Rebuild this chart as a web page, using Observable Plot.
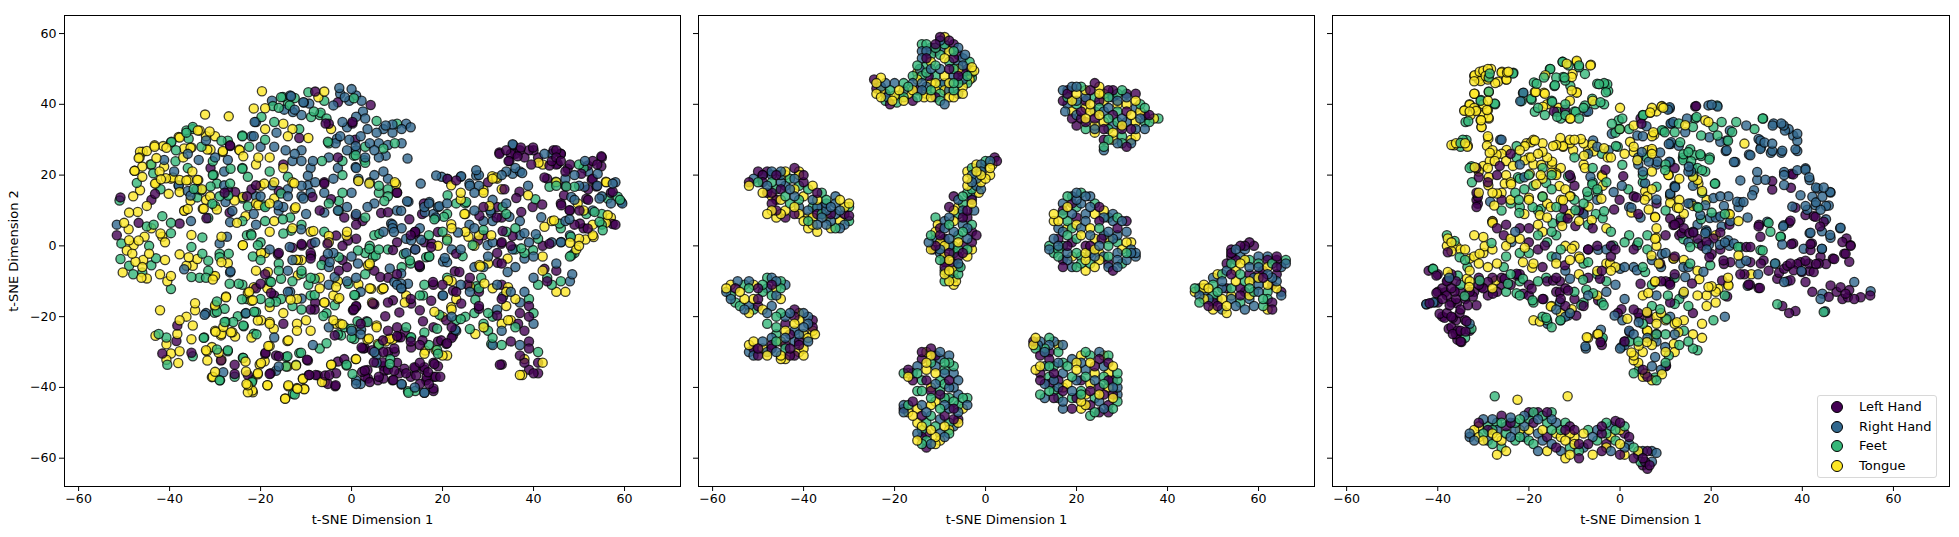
<!DOCTYPE html>
<html><head><meta charset="utf-8">
<script src="https://cdn.jsdelivr.net/npm/d3@7"></script>
<script src="https://cdn.jsdelivr.net/npm/@observablehq/plot@0.6"></script>
<style>
html,body{margin:0;padding:0;background:#fff;overflow:hidden;width:1959px;height:537px}
#root{position:relative;width:1959px;height:537px;font-family:"DejaVu Sans",sans-serif}
#root svg{position:absolute;top:0;overflow:visible}
#legend{position:absolute;left:1817px;top:395px;width:120px;height:83px;box-sizing:border-box;border:1px solid #d8d8d8;border-radius:3px;background:rgba(255,255,255,.8);font:13px "DejaVu Sans",sans-serif}
#legend div{position:absolute;left:41px;line-height:16px;white-space:nowrap;color:#000}
#legend i{position:absolute;left:-28px;top:2px;width:10px;height:10px;border-radius:50%;border:1.3px solid #000;box-sizing:content-box}
</style></head><body><div id="root"><div id="legend"></div></div>
<script>
const classes=["Left Hand","Right Hand","Feet","Tongue"];
const colors=["#440154","#31688e","#35b779","#fde725"];
const xTicks=[-60,-40,-20,0,20,40,60];
const yTicks=[-60,-40,-20,0,20,40,60];
// Each triple: t-SNE 1, t-SNE 2, class index
const panelA=[
-19.7,43.7,3,-21.5,38.8,3,-19,38.9,3,-17.5,41,1,-15.5,42,2,-13.5,42.5,1,-12.5,41.8,2,-14,40,2,-16,39,2,-12.5,38.5,1,-11,37,1,-9.5,43.4,2,-8,43.6,0,-6,43.6,3,-7.3,42,3,-6,41,2,-4,39.7,1,-3,40.6,0,-2.7,44.6,1,-2.5,43,1,-1.5,42,1,0,44.3,1,-0.5,41,1,1,42.5,1,0.5,41.7,2,2.2,41,1,4.2,39.8,0,2.5,38,1,-10.5,40.5,1,-8.3,38,2,-5.5,36,2,-7,37,2,-5,34.5,0,-4.5,33,3,-2,35,1,-1,33.5,1,0.2,35,0,1,36.5,1,3,36,1,5.5,35.3,2,7.5,34,1,9,34.3,1,10,34.5,2,12,34.5,1,13,33.5,1,11,33,1,9,32,1,7,33,1,5.5,32,1,3.5,33,1,2,31,1,-0.5,30,1,-2.5,31,1,-3.5,29,1,-5,29,2,0.8,30,0,4,29,1,6,29,1,8,28.5,1,9.5,29,2,11,29,1,
-21,35,1,-19,33,3,-17,35,2,-15,34.5,3,-13,33,3,-11.5,33,2,-16.5,32,1,-14,31,3,-11.5,30.5,0,-9.5,30.5,3,-19,30,2,-22,31,1,-20,28,1,-22.5,28,2,-17,28,1,-14.5,27,1,-12.5,26,1,-11,27,1,-18,25,3,-20.5,25,3,-15,23,0,-13,24,1,-11,24,1,-8.5,24,1,-6.5,24,2,-5,25,1,-3,25,0,-2,24,2,1,27,1,3,28,2,5,27,1,7,27.5,2,-1,27,1,0.5,25.5,2,3,25,1,3,23.5,2,6,25,1,7.5,25.5,1,12.3,24.7,1,1,22,1,-3,22,1,-9,22,1,-15,22,3,-21,23,3,-18,21,2,-14,19.5,2,-13,18,3,-17,18,3,-20,17,3,-16,15.5,0,-11,17,1,-8,18,1,-6,18,0,-4,19,1,-2,20,2,1.5,19,1,5,20,1,7,21,1,8,19,1,1.5,18.5,3,4,18,1,9.5,18,3,6,17,2,8,16,2,0,15,1,-2,15,2,-6,15,1,-9,15,1,-11,14,1,-14,14,1,-20,14,1,-23,14,0,-21,12,3,-18,12,3,-15,11,1,-12.5,10.5,3,-10,9,1,-7,10,0,-5,12,2,-3,10,1,-1,11,1,1,9,1,3.5,11,1,5,12,1,6,15,2,8,14,2,10,15,0,12.5,12.5,1,10,10,1,8,9.5,0,9,6,1,
-50.8,13.7,0,-51,12.8,2,-48,14,3,-51.6,6,1,-51.6,3,0,-50.6,0.7,2,-50.3,-7.5,3,-50.8,-3.7,2,-48.9,9.4,3,-47,9.6,3,-50,6.5,3,-49,4.7,3,-48.9,1.6,3,-47.9,0.2,3,-48.2,-2.2,3,-49.4,-1.3,3,-48.9,-5.6,2,-46.8,6.5,0,-45.5,2.6,3,-45,5.5,2,-44,5,3,-44.5,-2.2,3,-46,-6,3,-46.2,-9,3,-45,-9.2,3,-42.1,-8,3,-39.7,-8.5,3,-39.7,-12.2,2,-41.6,2.6,3,-39.7,3.6,2,-39.7,6.5,2,-37.8,6.3,0,-41.6,8.4,2,-41,-4,3,-42,3.5,3,-41,1,3,-44.5,0,2,-46.8,1.5,3,-47.5,-4.5,3,-45.8,-4,3,-44,-5.5,2,-43,-3.5,2,-40.5,-10,3,-48,-8,2,-46,-7.5,2,-43.5,6,2,
-32.2,37.1,3,-27,36.6,3,-34.9,33,2,-36.3,32,2,-33.4,32.6,3,-32,31,3,-30,31,3,-28.6,29.7,2,-26.7,28.2,0,-37.8,30.6,3,-39.7,29.2,2,-40.7,27.7,3,-43.3,28,3,-45,26.8,3,-46.5,26.6,3,-46.8,24.8,3,-42.9,24.8,3,-41.2,24.3,1,-38.7,23.9,2,-35.4,27.7,3,-31.7,27.2,3,-28.3,26.8,3,-24.7,27.2,3,-24,31,2,-33.6,24.3,1,-30.5,23.9,2,-27.2,24.3,1,-23.8,25.3,3,-46,22.4,3,-41.2,22.4,3,-47.7,21.2,3,-46,19.5,3,-43.6,20.5,2,-39.7,19,3,-41.9,18.8,3,-37.8,18.6,3,-35.9,18.6,3,-33.7,18.6,3,-35,21,3,-43.2,17.6,3,-47.2,17.8,2,-38,17,1,-32.9,16,3,-30.5,20,2,-28,21,1,-29.6,17.6,2,-26.7,17.6,2,-24,22,2,-22.8,19.5,2,-46.5,15.7,3,-43.2,14.7,0,-40.2,14.7,3,-37.8,15.2,3,-33.9,13.7,2,-35.4,14.2,1,-45,11.3,3,-36.8,9.9,3,-35.4,12.8,3,-32.5,10.5,3,-29.6,10.3,3,-30,11.3,2,-31.5,7.9,2,-27.1,14.2,2,-25.7,12.8,3,-27.2,15.7,0,-24,13.4,2,-26.2,9.9,1,-25.2,6.5,3,-26.7,6.7,1,-23.3,8.4,3,-36,26,1,-33,28,2,-30,25,1,-36,22,2,-37,25,3,-39,21,1,-44,23,2,-31,22,0,-34,16,1,-36,15.5,1,-42,16,2,-44,13,0,-29,14,2,-32,13,3,-22,16,0,
-35.2,3.1,3,-32.8,2.4,2,-35.2,-0.3,2,-37.8,-2.4,3,-35.8,-3.2,3,-33.9,-3.7,3,-36.3,-5.6,3,-34.9,-5.6,3,-32.8,-2.2,2,-31.5,-4.2,2,-29,-2.2,2,-27,-2.2,2,-28.6,-4.6,3,-27.2,-4.9,3,-31.5,-7,2,-33.4,-9,2,-35.2,-8.8,2,-36.8,-6.6,1,-30,-8.5,3,-26.7,-7.5,1,-28.6,2.6,3,-27.4,2.6,1,-29,0.7,1,-23.9,0.2,3,-30.5,-9.5,3,-32,-9,2,
-24,7,2,-23,3,2,-21,6,1,-19,7,2,-17,7,3,-16,10,1,-19,11,2,-21.5,9,1,-13.5,8,2,-11,6,2,-13,5,3,-15,3.5,2,-18,4,3,-20,1,2,-22,3,2,-9,4,3,-6,4,2,-8,1,1,-5,1,3,-11,0.5,0,-13,-0.5,0,-16,-2,0,-18,-1,1,-20,-4,2,-19,-2,3,-16,-5,2,-13,-4,1,-11,-4,3,-9,-2,0,-6,-4,0,-4,-2,1,-2,0,0,1,2,0,-1,4,3,1,6,0,3,8,2,5,3,2,7,4,1,9,5,1,11,5,1,4,0,2,6,-1,2,8,-1,2,10,1,0,3,-2,2,0,-3,1,-2,-4,0,-5,-6,1,-7,-9,3,-9,-9,2,-11,-7,2,-14,-7,1,-16,-7,2,-19,-8,0,-21,-7,3,-18,-10,2,-13,-10,2,-9.5,-11,2,-7,-12,3,-5,-11,1,-3,-10,3,-1,-6,0,1,-9,1,3,-8,2,5,-7,0,4,-5,3,2,-13,1,7,-12,3,8,-9,0,10,-8,0,12,-2,1,14,-1,0,12,2,1,14,4,0,11,-6,2,13,-5,2,15,-6,2,14,-1,1,17,-3,2,16,1,0,
-24,-11,2,-22.5,-13,3,-21,-12,0,-18.5,-12,3,-17,-14,0,-14,-13,1,-12,-15,3,-9,-14,2,-8,-16,0,-6,-16,3,-4,-14,3,-3,-15,3,-1,-10,1,0.8,-14,2,4,-12,3,7,-12,3,8,-16,0,10,-11,1,11,-12,1,12,-14,3,13,-15,0,15,-14,2,4.5,-16,3,5,-16.5,0,0.5,-18,0,1,-17,0,-20,-15,2,-23,-15,2,-22,-15.5,3,-18,-16,2,-15.5,-15,2,-13,-17,2,-15,-19,3,-11,-18,2,-9,-18,0,-5.5,-19,2,-4,-21,3,-2.5,-22,3,-12,-22,3,-10,-21,3,-9,-24,3,-12,-24,3,
-42.1,-18.2,3,-43.1,-25.4,3,-42.4,-24.9,2,-34.4,-16.2,3,-34.4,-18.2,3,-36.3,-20,3,-37.8,-21,3,-38.3,-22.5,0,-34.9,-22.5,3,-32,-19,1,-29.6,-15.7,2,-29.6,-18.6,2,-27.6,-14.3,3,-30,-17.2,3,-40.7,-25.9,2,-38.3,-24.9,3,-40.7,-27.8,3,-38.5,-26.9,0,-35.2,-26.4,3,-32.4,-25.9,2,-41.6,-30.4,0,-39.7,-30.4,3,-37.8,-29.8,3,-35.2,-30.2,0,-40.7,-32.2,3,-40.5,-33.6,2,-38.1,-33.1,3,-34.9,-31.2,2,-31.8,-29.8,3,-29.6,-29.3,2,-27.2,-29.5,2,-31.7,-32.4,3,-28.6,-32.2,3,-29.9,-24.3,3,-28.6,-24.9,3,-26.2,-24.4,3,-27.6,-21.5,2,-23.8,-22.5,2,-21.4,-18.6,2,-23.3,-19.1,2,-19.9,-21,3,-18,-22,3,-20.9,-25,2,-22,-25.9,3,-15,-22,0,-17,-25.9,1,-18,-28.3,3,-14.1,-26.9,3,-18.9,-30.2,0,-16,-31.2,0,-23.8,-31.7,2,-30.5,-37,3,-28.9,-38,2,-30,-35.6,3,-25.7,-33.6,0,-25.7,-37,2,-22.8,-36.5,0,-23.3,-32.7,3,-19.9,-33.1,3,-20.6,-36,3,-21.8,-38,2,-22.8,-39.4,3,-21.8,-40.9,3,-18.5,-39.4,3,-17.8,-36,0,-16,-34.1,1,-14.1,-31.2,2,-14.1,-34.1,3,-12.2,-33.6,2,-9.8,-32.2,0,-11.1,-30.2,2,-13.9,-39.7,3,-12.9,-41.8,2,-14.6,-43.1,3,-12,-40.2,3,-10.4,-40.4,3,-10.7,-37.5,3,-9.3,-36.5,0,-7.9,-36.5,0,-5.9,-38.5,3,-4.9,-36.5,0,-3.5,-39.4,0,-4.4,-33.6,3,-3,-32.7,0,-1.1,-33.6,2,0.9,-32,3,-8.5,-28,1,-7,-29,2,-5.5,-27.5,2,-5,-23,1,-3,-25,2,-1.5,-23,2,0,-24,1,2,-22,0,3.5,-21.5,2,5.5,-22.5,3,0,-26,2,2,-25,1,3.5,-26.5,3,2.5,-29,0,4.5,-29.5,0,6,-28,2,7.5,-27,3,9,-26.5,3,10,-25.5,0,8,-24,0,10,-23,0,12,-23,2,
2.3,-35.6,0,3,-37,0,1,-38,1,2,-39,1,4,-38.5,0,6,-37,0,5.5,-33,1,7,-34,0,8,-35,0,8.5,-32,2,10,-33,0,10.5,-36,0,12,-36,0,13,-37,0,7,-37.5,0,9,-38,0,11,-39,1,12.5,-41.5,2,14,-41,2,16,-41.5,1,15,-39,0,17,-39,0,18,-41,0,18,-37,0,19.5,-37,0,19,-34,0,16.5,-37,0,16,-35,0,15,-33,0,18,-33,0,14,-34.5,0,5,-30,1,7,-30,0,9.5,-30,0,13,-26,2,13,-27,0,15,-28,0,17,-28,2,19,-27,0,21,-27.5,0,22,-26,0,16,-24.5,2,18,-23,0,22,-23,0,23,-24,1,18.5,-29.5,3,21,-31,3,19,-30.5,2,16,-30.5,3,
19.8,19.5,1,21,19,1,23,18.5,0,24,15,3,26,17,1,24,19.5,1,27,15,1,28,20,1,28,17,1,30,18,0,31,19,3,32,19,3,33,16,3,31,13,1,29,15,3,16,11,1,15.5,9,0,18,9,1,17,12,1,19,11,1,18.5,8,1,21,9,2,21,12,1,23,12,2,25,9,3,25,12,2,27,10,1,29,11,0,30.5,10,1,32,11,0,34,12,1,33,8,0,31,7,1,29,7,1,27,5,1,28,3,3,25,4,3,22,5,3,20,4,2,17,3,2,15,5,1,13,3,0,19,0,3,21,2,3,22,-1,1,24,-1,1,27,0,3,29,3,0,31,1,1,33,1,0,35,0,0,36,-1,2,37,3,1,39,1,1,38,-2,2,41,2,2,42,0,0,40,-3,1,36,5,2,34,4,2,37,7,1,34,9,2,32,-2,0,30,-3,1,30,-5,3,33,-5,0,36,-6,1,29,-6,1,27,-6,1,26,-9,0,24,-11,1,21,-9,2,22,-10,3,20,-11,0,18,-11,0,16,-11,2,28.5,-9,2,32,-11,1,28,-12,2,26,-11.5,3,28,-13,0,26,-13,1,31,-12,3,33,-11,0,20,-14,1,23,-13,0,23,-15,3,22,-18,3,20,-20,3,22,-20,1,23,-21,2,25,-20,2,27,-19,2,28,-17,0,30,-19,2,32,-18,1,29,-23,3,30,-24,2,29,-22,2,31,-20,2,
33,-15,0,34,-17,3,36,-15,3,37,-19,0,39,-20,0,40,-19,2,37,-16,1,39,-17,0,35,-13,1,34,-13,3,38,-13,1,39,-15,2,31,-26,2,33,-24,1,33,-22,3,35,-21,3,36,-23,2,38,-24,0,40,-22,1,39,-27,0,31,-28,1,33,-28,2,35,-27,0,37,-28,1,39,-29,0,41,-30,2,42,-33,3,41,-33,0,33,-33.5,0,37.5,-36.5,3,38,-33,0,39,-35,0,37,-31,0,40,-36,0,41,-36,0,38,-32,3,
34,27,0,32.5,26,0,35,26,0,36,26,0,37,27,0,39,27,0,40,27,0,35.5,28.5,1,38,25,0,34.5,24,0,41,25,0,42,23,3,36,22,1,37,21,1,34,21,1,33,20,1,
45,27,0,46,26,0,44,26,1,46,24,0,44,24,0,45,23,0,48,23,0,47,21,0,50,23,2,53,24,0,55,25,0,54,23,0,51,22,2,53,19,0,52,21,1,49,20,1,47,19,1,45,18,3,43,19,0,45,17,2,47,17,0,50,17,1,52,16,0,54,17,1,56,18,3,58,18,1,57,15,0,59,13,2,59.5,12,1,57,12,1,55,14,1,52,13,0,49,13,1,46,12,0,48,10,0,51,10,3,53,10,1,55,9,2,57,8,3,58,6,0,55,6,2,53,6,3,51,5,0,49,6,0,47,7,1,44,7,3,46,5,2,53,3,3,50,2,3,48,3,1,49,-2,2,50,0,3,46,1,1,44,1,1,42,-3,3,48,-3,2,45,-5,1,45,-7,0,42,-7,3,43,-9,2,48.5,-8,1,48,-10,1,46,-10,2,44,-11,2,45,-13,3,47,-13,3,43,-10,0,40,-9,1,41,-11,2
];
const panelAMore=[
35.4,28.7,1,37.2,27.8,0,39.9,27.8,0,32.5,26.4,0,34.7,24,0,36.5,25.3,0,39.5,23,0,41.1,23.5,3,35.4,20.4,1,37.5,20.6,1,42.4,26,1,44.4,27,0,46,26,0,45,25,0,43.5,22.7,0,45.3,23.2,0,47.5,21.8,0,51.3,24,1,54.9,25.3,0,51.9,22.7,0,54.9,22.5,0,50.5,20.4,0,54.1,20.4,1,52.8,18.7,0,55.9,18.1,3,57.4,17.6,1,42.4,19.3,0,43.5,16.7,2,44.9,18.1,2,47.2,16.8,2,49,16.7,2,51.2,16.7,1,53.8,16.8,0,57.4,15.3,0,58.5,13.9,2,59.3,12.4,1,56.3,13.4,2,54.5,13.4,1,48.3,13.8,1,46.7,14.3,0,51.6,13.3,0,46.1,11.5,0,49.7,12,3,47.9,10.1,0,50.1,10,0,53.4,9.6,2,56.3,8.7,3,51.6,9,2,47.9,7.5,1,44.5,7.2,3,45.7,6.3,2,50.2,6.3,0,51.9,4.9,0,54.5,6.8,2,55.9,6.5,3,57.4,6.2,0,55.2,4.4,2,48.2,2.6,2,51.4,1.8,3,53.2,2.5,3,48,0.9,3,49.4,-1,3,46.1,1.1,1,42.4,5.4,3,43.5,0.6,0,31.8,19.3,3,30.9,19.7,3,29,15.7,3,27.4,21.4,1,33.6,16,0,38.8,17,1,36.9,15.3,0,38.8,14.3,3,40.4,13.2,2,36.2,13.5,0,39.8,11,0,41.9,11.7,0,33.2,11,2,30.3,11.3,3,37.3,9.6,0,34.7,8.2,1,31.9,8,0,28.1,8.5,0,30.7,9.2,1,24.8,9,3,24,13.1,3,25.2,12.4,2,21.1,14.3,2,18.6,19.9,1,24.1,19.7,1,27.4,19.9,1,25.9,17.6,1,21.9,17.1,3,21.1,18.9,0,15.9,12,0,17.1,12.4,1,19.3,11.2,1,16.1,9.5,1,20.3,8.2,2,18.2,7.5,2,21.9,6.1,3,23.4,3.8,1,25.9,6,1,29,4.5,2,30.7,3,3,27.8,1.5,0,25.7,2.6,3,21,1.5,2,19,3.9,0,33.2,4.2,0,35.4,2.8,0,38,3.6,1,40.5,3.3,1,41.7,8.1,1,39.9,-1.2,2,37.3,-0.7,2,35.4,-1,1,32.9,0.6,0,29.9,0.2,1,26.6,0.2,2,23,-2.2,0,24.4,-2.9,2,21,-4.6,1,17.5,-0.3,0,14,3.5,0,15.3,1.7,1,15.2,17.6,1,12.7,7.5,0,12.2,12.6,1,9.8,17.5,3,10,15.1,0,7.2,12.7,2,10.9,9.9,1,8.7,6.3,1,6.5,9.3,0,9.3,3.9,1,13.9,3.9,0,13.1,1.6,1,11.5,-2.3,2,9.1,-1.2,0,17.1,-3,2,14.9,-5.5,0,20.1,-4.4,1,28.1,-5.4,3,32.1,-4.8,0,34.3,-3.6,3,38,-3.6,1,42.4,-6.5,0,48.3,-2.7,2,
-47.7,21.2,3,-44.2,23,3,-42.2,21,3,-40.8,19.1,3,-39.3,19.3,3,-43,17.6,3,-36.3,18.5,3,-33.9,18.6,3,-38,17.1,1,-34.7,16.1,2,-33,15.7,2,-31,16.8,2,-30.3,20.1,2,-26.6,21.8,2,-24,21.8,2,-28,17.1,1,-25.6,15.2,0,-27.9,15,0,-31.1,14,3,-27.7,12.4,1,-26.8,9.4,0,-30.6,11.9,2,-32.7,10.5,3,-36,10.4,3,-36.7,10,3,-31.9,7.8,0,-35.3,7,1,-23.9,13.8,3,-22.8,11.2,2,-21,17.1,0,-19.2,17.6,3,-17.4,17.1,1,-14,16,1,-12.6,17.7,3,-15.5,14.8,2,-20.5,11.5,3,-19.2,11.4,2,-16.2,11.5,1,-12.3,10.9,3,-17,13.4,3,-21,14,1,-10.6,13.4,1,-8.6,13.8,0,-9.6,19.8,1,-9.6,17.1,1,-6,17.6,0,-4.5,13.2,0,-2.8,12.7,2,-2.8,9.9,2,-6,9.4,1,-1.6,8,0,2.4,7,0,0.9,8.5,0,-22.1,3.4,2,-20.6,0.2,2,-19.9,-2,3,-16.2,-2.4,0,-13.6,-0.3,1,-11.8,-4,3,-10.9,0.1,0,-8.8,0.6,0,-8.4,4.2,3,-5,2.8,3,-3.4,2.9,0,-5.3,0.6,0,-1.1,2.9,3,-0.8,1.5,0,-13.3,4.3,2,-15.1,7.5,2,-11.1,4.7,1,-9,-3.6,0,-6.6,-5.4,2,-4.8,-4.6,1,-2.8,-3.2,2,1.4,-1.3,2,3.9,-5.5,3,6.1,3.4,2,3.9,-0.8,2,5.3,-2.7,2,-21.7,-3,2,
-21.3,35,1,-19.8,36.4,2,-17.3,39.5,2,-15.1,42.1,2,-13.3,42.3,1,-13.6,39.7,2,-14.8,38.5,1,-12.9,37.8,1,-10.6,40.6,1,-9.3,40.2,1,-8.9,36.4,2,-6.8,37.6,2,-5.7,34.6,0,-5.2,29.4,2,-3.2,30.3,1,0.2,34.6,0,0.9,28.2,1,0.9,25.6,2,2.8,24.2,2,0.9,22.3,1,1.5,18.3,3,3.9,17.6,3,-34.9,33.6,2,-36.3,32.6,2,-33.8,32.6,3,-31.2,32.3,3,-35.8,30.3,2,-38,30.8,3,-39.6,29.4,2,-41.4,28.2,3,-43.3,28.4,3,-45.9,26.6,3,-46.6,25,3,-38.6,27,2,-36.8,27.5,3,-35.2,27.8,3,-32,29.8,1,-31,27.2,3,-28.3,26.5,3,-27.2,29.7,2,-26.7,28.4,0,-24.6,27,3,-24,31.2,2,-21.5,31,1,
-23.9,0.2,3,-29,-3.2,2,-30.3,-8.6,3,-26.6,-7.2,1,-26.8,-10.7,2,-24.8,-10.7,2,-24.1,-15.1,2,-27.6,-14.5,3,-30,-16.8,3,-27.9,-17.8,2,-30.1,-18.9,2,-32.3,-19.5,1,-23.2,-19,1,-21,-18.7,2,-25,-19.9,2,-27.9,-21.5,2,-26,-21.5,2,-20.6,-21.1,3,-18,-21.5,3,-17.1,-23.4,3,-23.7,-22.7,2,-21.5,-24.8,2,-30,-24,3,-28.2,-22.9,3,-26.5,-24.4,3,-25.6,-25.6,3,-28.7,-25.3,3,-32.5,-26,2,-32,-29.5,3,-30.7,-28.6,3,-27.2,-29.8,2,-29.2,-30.2,3,-28.7,-32.4,0,-23.9,-31.6,2,-19,-30.5,0,-18.3,-28.3,3,-13.9,-26.7,3,-20.2,-33.5,3,-19.1,-32.6,3,-16.6,-31,0,-14.4,-31.4,2,-11.5,-30.3,2,-9.6,-32.4,0,-12.2,-33.8,3,-14.4,-34.1,2,-18,-36.2,0,-16.6,-35.3,1,-25.7,-36.2,0,-23.2,-35.5,3,-20.6,-36.3,3,-30.7,-37.1,3,-29,-38,2,-28.2,-35.7,1,-21.9,-38.5,2,-23.1,-39,3,-22.8,-41.4,3,-21.7,-41.4,3,-18.5,-39.4,3,-13.9,-39.4,3,-11.9,-40.4,3,-10.4,-40.5,3,-12.5,-42,2,-14.6,-43.2,3,-10.7,-37.6,3,-9.4,-36.5,0,-7.4,-36.6,0,-5.8,-36.6,0,-6.5,-38.5,3,-5.2,-39,0,-3.6,-39.7,0,-3.4,-36,0,-4.5,-33.6,3,-1.6,-32,0,-1.1,-33.8,2,1,-32,3,0.2,-36.2,2,1,-39,1,3.6,-37.5,0,2.9,-35.2,0,5.5,-30.8,1,2.2,-28.7,0,2.9,-28.9,0,3.8,-26.2,3,5.8,-27.7,3,3.3,-21.3,0,1.3,-21.3,2,-0.1,-23.4,2,2.1,-23.7,1,5.5,-23,3,-3.4,-22,3,-2,-22.2,3,-3.7,-25.3,0,-2.3,-25.3,2,0.6,-26.3,2,6.9,-26.7,0,8.4,-26.2,3,10.8,-25.8,0,11.7,-24.4,0,13.1,-25.8,2,15.6,-26.7,0,18.8,-23.4,2,22.3,-25.3,0,22.8,-23.7,1,20.8,-27.7,0,19.7,-26.7,0,16.2,-29.6,3,18.8,-29.4,2,20,-31,3,13.1,-28.7,0,10.2,-25.8,0,9.4,-29,0,8,-30,0,6.9,-32.9,0,8.4,-33.4,2,4.9,-32.9,0,3.5,-35.1,0,7.2,-35.3,0,9.4,-35.3,0,11.6,-34.7,0,13.8,-34.3,0,16,-34.3,0,18.2,-33.4,0,18.5,-37,0,16.8,-35.7,0,16.4,-38,0,14.2,-36.6,0,11,-39.2,1,9.2,-37.9,0,12.4,-41.1,2,13.9,-40,1,16,-41.5,1,18,-40.3,0,5.8,-38,0,32.6,-33.6,0,37,-36.5,3,
4.3,-12.1,3,6.6,-12.3,3,6.3,-8.8,0,10.9,-10.7,1,9.4,-10.2,1,1,-17.2,0,4.7,-16.3,0,0.3,-18.2,0,13.1,-16.3,0,15,-18.2,0,15.7,-21.3,0,18.2,-18.6,3,19.3,-19.5,2,20.8,-21,0,24,-20.7,2,26,-23.5,2,27.2,-24.9,3,29.2,-23,2,30.7,-27.7,2,32,-19.7,0,28,-17.8,0,21.9,-17.3,3,24.1,-16.3,0,27.2,-15.2,2,20.1,-14,1,22.3,-12.7,0,17.9,-10.2,0,21.2,-9.7,3,23.7,-7.4,0,27.4,-11.4,2,29.2,-10.6,3,34.4,-11.7,3,33.3,-14.3,1,34.4,-21,3,36.6,-22,0,17.6,0.7,0,20.5,-3.4,1,28.3,-5.8,3,34.3,-7.4,1,15.7,-14,2,17.5,-15.5,0,10.9,-12,1,9.1,-15.4,0,10.5,-18.8,0,7.4,-19.9,0,11.7,-16,3,-18.4,-7.4,3,-21.5,-11.7,3,-22.8,-13.3,3,-21.7,-15.4,3,-20,-10.7,0,-17.7,-10.2,2,-15.5,-9.3,2,-17.7,-13.3,0,-16.6,-15.8,2,-13.5,-13,1,-18,-17.3,3,-13.4,-15.2,3,-12.2,-3.9,3,-11,-7.9,2,-8.9,-2.7,0,-5.2,-2.2,1,-8.1,-9.3,2,-5.9,-16,3,-3.7,-16.8,2,-3.4,-11.6,3,-2.7,-14.7,3,-3.7,-8.8,1,-8.1,-18,0,-6.2,-19.8,2,-8.1,-13.9,2,-11,-14.9,1,-11.8,-8.3,3,0.6,-13.9,2,1.5,-10.9,3,-0.7,-10.7,2,1.4,-5,1,3.6,-5.5,3,-2.8,-7,0,4.7,-3.2,2,8.4,-6.4,1,10.9,-7.8,1,12.4,-10.7,1,15,-5.8,0,16.4,-3.2,2,12.8,-4.1,2,25.5,-11,0,22.7,-7.2,0
];
const panelB=[
-24.5,47,0,-24,46,3,-23,47.5,3,-22,46,1,-21,44,2,-23,42,3,-24,43,3,-20.5,41,3,-21,40,0,-19.5,40.5,2,-21.5,42,1,-19,42.5,2,-18,44,1,-17,43,3,-16,41,0,-15,42,2,-18,41,3,-16,46,1,-18,46,2,-15,47,3,-14,48,2,-13,45,1,-12,46,3,-12,42,3,-13.5,42,3,-11,42,0,-10,43,2,-9,44,3,-10,45.5,2,-8,46,3,-7,44,2,-7,42,3,-9,40,1,-6,46,2,-5,47,1,-5,45,3,-3.5,47,3,-2.5,49.5,3,-3,49,2,-4,50,0,-3.5,52,2,-5,53,1,-6,54,0,-7,55,2,-9,53,3,-10,54,2,-11,51,2,-12,50,1,-13,49,2,-14.5,50,1,-15,49,3,-14,53,1,-13,55,1,-12,54,2,-13,57,2,-12,56,1,-14,57,2,-11,57,0,-10,58,1,-8,58,0,-9,59,3,-9,57,2,-8,50,0,-7,48,1,-6,50,3,-9,48,3,-11,48,2,-6,51,1,
17,44,1,18,42,2,18,40,1,17.5,38,1,19,45,1,20,43,3,21,45,2,22,44,3,24,46,0,25,45,3,23,40,3,22,42,1,20,40,2,21,38,0,19,36,0,20,34,0,22,33,2,24,32,3,26,33,0,28,32,3,30,33,0,25,37,3,27,36,2,29,35,2,31,35,1,33,35,3,35,37,0,36,35,2,37,36,3,38,36,2,26,41,3,28,42,1,30,44,2,31,42,1,33,43,0,34,40,2,31,38,0,34,38,3,33,33,1,29,38,2,25,41,0,27,44,0,29,40,3,35,35,2,30,31,2,32,30,3,26,28,2,27,30,2,29,29,1,31,28,0,32,29,1,26,27,1,24,36,0,26,38,1,22,36,3,
-52,17,3,-51,19,1,-50,21,0,-49,20,1,-48,21,0,-46,20,0,-45,21,1,-44,21,3,-42,22,0,-41,20,3,-41,21,3,-43,19,2,-45,18,1,-47,15,0,-47,18,2,-49,18,0,-48,15,0,-46,16,2,-47,14,3,-43,16,1,-42,14,1,-44,14,2,-48,9,3,-47,10,3,-46,10,0,-45,9,3,-42,9,0,-41,13,2,-41,9,3,-39,10,1,-39,8,3,-38,11,2,-36,11,1,-37,15,0,-38,17,3,-40,18,0,-36,15,2,-36,8,1,-38,6,3,-39,5,3,-37,4,3,-35,6,1,-34,7,1,-33,5,2,-33,9,1,-31,9,0,-32,7,3,-30,11,2,-30,12,3,-32,13,3,-33,12,1,-35,12,1,-31,11,3,-34,9,0,-30,8.5,0,
1,24,1,2.5,24,0,1.5,23,3,-1,23,1,-2,23,3,-3,22,2,-4,21,3,-4,19,3,-3,20,1,-1,21,1,0,19,3,1,20,3,-1,18,3,-2,17,1,-3,16,2,-4,15,2,-1.5,15,3,-3,14,1,-7,14,0,-5,12,2,-6,11,3,-8,11,0,-3,12,3,-4,10,0,-2.5,10,1,-5,8,0,-8,8,1,-9,7,1,-10.5,6,3,-11,8,2,-7,7,3,-5,6,1,-3,6,2,-3,4,0,-6,3,2,-8,2,1,-10,3,0,-12,3,2,-12.5,1,1,-11,0,0,-9,0,3,-6,1,3,-5,0,0,-3,1,0,-3,-1,3,-7,-2,2,-9,-3,3,-10,-2,1,-11.5,-1,0,-10,-4,2,-8,-4,3,-6,-5,1,-5.5,-6,2,-8,-7,3,-6,-8,2,-9,-8,3,-8,-10,3,-6.5,-10,3,-9,-10,2,-7,-5,0,-9,-4.5,0,
17,12,1,19,14,1,21,15,2,22,14,1,20,13,1,18,11,3,15,9,3,16,7,3,17,10,0,18,7,2,19,9,1,20,11,2,23,11,1,25,11,0,24,9,3,26,10,3,27,8,2,29,8,2,31,7,0,28,7,1,25,7,0,22,7,1,20,6,3,19,5,2,17,4,1,15,2,1,14,0,2,16,2,0,17,0,2,19,1,0,22,0,0,24,-1,3,22,-2,3,20,-2,2,18,-2,1,16,-3,2,18,-4,1,17,-4,0,19,-6,1,21,-5,2,23,-5,2,22,-7,3,25,-4,3,26,-3,1,27,-5,0,29,-6,1,28,-7,0,31,-2,2,32,-2,1,33,-2,1,31,-4,1,30,-5,2,29,-2,1,27,0,2,28,2,1,31,1,3,32,1,3,29,3,1,24,2,3,25,0,1,23,3,1,21,3,3,25.5,2,0,
55,-1,1,56,0,0,57,0,0,58,1,0,54,-1,0,54,-3,0,56,-3,1,58,-4,2,60,-3,1,62,-3,1,64,-3,0,66,-5,1,65,-6,1,63,-5,2,62,-6,3,60,-6,1,58,-6,1,56,-5,3,54,-5,2,53,-7,1,52,-8,2,51,-8,3,50,-9,1,58,-8,0,60,-8,0,61,-9,0,63,-9,1,64,-10,1,60,-11,1,59,-13,2,62,-11,3,62,-13,2,65,-13,0,58,-14,3,55,-10,3,54,-12,2,56,-12,0,57,-13,0,53,-12,0,51,-13,2,49,-12,3,48,-11,3,46,-12,2,47,-14,1,48,-15,3,49,-15,1,50,-16,0,52,-15,3,54,-15,1,56,-16,2,58,-15,1,61,-17,2,62,-18,3,63,-18,0,63,-16,0,61,-15,2,59,-17,1,57,-18,1,53,-19,3,52,-18,1,50,-18,3,
-54.5,-10,1,-52,-10,1,-56,-11,3,-57,-13,1,-56,-14,2,-55,-16,2,-54,-13,3,-52,-12,2,-53,-15,3,-51,-15,3,-50,-12,0,-49,-11,2,-47,-9,1,-48,-9,2,-45,-10,2,-44,-11,1,-46,-12,3,-47,-14,2,-50,-17,0,-51,-18,2,-53,-18,1,-52,-19,3,-48,-19,1,-46,-20,2,-43,-19,1,-42,-20,0,-41,-21,3,-40,-19,1,-39,-22,1,-38,-23,0,-38,-24,3,-40,-25,3,-42,-24,1,-44,-22,0,-46,-25,2,-44,-26,1,-46,-27,2,-48,-22,2,-47,-28,0,-49,-27,1,-51,-27,3,-52,-28,3,-50,-31,0,-51,-31,1,-48,-30,1,-45,-32,3,-44,-32,3,-42,-31,0,-41,-30,3,-40,-31,3,-43,-29,0,-45,-31,3,-47,-29,0,-50,-29,0,-44,-29,2,-41,-27,0,-39,-26,3,
-12,-29,0,-13,-30,3,-11,-31,0,-14,-32,0,-12,-33,2,-10,-32,1,-9,-33,2,-8,-33,2,-17,-35,0,-18,-36,2,-17,-36,3,-15,-34,1,-13,-35,3,-11,-36,3,-9,-36,1,-16,-38,0,-14,-38,2,-15,-41,2,-12,-40,3,-10,-38,2,-8,-38,0,-8,-40,1,-10,-42,0,-12,-43,2,-9,-43,2,-7,-44,2,-5,-43,2,-4,-43,2,-6,-42,1,-11,-44,3,-18,-45,1,-18,-46,0,-17,-47,3,-15,-46,3,-13,-47,1,-14,-48,0,-10,-46,2,-8,-46,1,-6,-47,1,-7,-49,0,-9,-48,0,-6,-50,3,-8,-52,3,-11,-51,2,-13,-50,2,-15,-50,3,-14,-52,2,-13,-53,0,-15,-55,3,-14,-56,2,-12,-56,1,-11,-54,3,-9,-54,1,-10,-55,3,-13,-57,0,-14,-54,0,
11,-26,3,10.5,-27,0,11.5,-28,1,13,-29,2,14,-26,2,15,-27,1,16,-28,3,13,-30,1,12,-31,0,14,-32,0,11,-35,3,12,-36,0,13,-34,1,15,-34,2,15,-38,1,16,-38,0,14,-37,2,17,-36,1,17,-33,2,19,-32,1,21,-31,3,22,-30,2,23,-33,3,24,-34,0,25,-32,0,27,-31,2,26,-34,1,24,-36,3,26,-37,2,27,-36,3,28,-38,0,27,-40,3,25,-40,0,23,-39,3,21,-38,0,20,-35,3,19,-37,2,21,-41,2,19,-41,1,17,-41,0,14,-41,2,12,-42,2,15,-43,0,17,-44,1,17,-46,1,16,-43,2,20,-43,0,22,-42,3,24,-43,2,21,-44,3,22,-45,3,24,-47,2,26,-46,1,28,-46,2,28,-43,3,27,-45,0,29,-40,1,28,-42,0,23,-45,0,25,-44,1
];
const panelBMore=[
-23,44,3,-22,43,0,-20,46,1,-19,44,3,-17,45,2,-16,44,3,-14,44,1,-12,44,2,-10,41,2,-8,42,3,-23,45,1,-20,42.5,3,-18,42,2,-15,44,0,-13,43,3,-11,44,3,-9,46,1,-7,46,2,-5,43,3,-6,48,0,-4,48,2,-3,50.5,3,-5,51,1,-7,50,2,-8,52,2,-10,50,1,-12,52,3,-13,51,2,-14,55,1,-11,55,0,-8,55,3,-9,56,1,-6,56,1,-7,53,0,-15,51,2,-16,48,2,-11,46,3,-12.5,48,0,-4,46,2,-5,49,0,-8,44,1,-6,43,1,-22,41,2,-24,44.5,0,-3,47.5,2,-7,57,0,-10,59,0,-11,56,2,-13,53,0,-4.5,54,1,-14,46,1,
18,43,0,19,41,3,20,41,1,22,41,0,24,42,2,26,43,3,28,44,0,29,43,2,31,43,0,33,41,3,35,39,2,36,37,0,34,36,1,32,37,3,30,36,1,28,37,0,26,35,3,24,34,3,22,35,0,20,37,1,19,38,3,17,41,0,18,44,0,20,45,1,23,44,0,25,43,3,27,42,2,29,41,1,31,40,3,33,39,1,27,39,1,25,39,2,23,38,3,21,36,0,22,39,3,24,38,1,28,34,1,30,34,3,32,33,0,27,33,2,24,33,1,26,30,0,28,30,3,30,29,2,33,31,3,35,33,1,
-50,18,2,-52,18,0,-49,20,0,-47,21,1,-47,20,1,-44,20,3,-42,19,1,-40,20,0,-39,16,2,-42,16,3,-45,16,0,-49,15,3,-45,13,3,-43,12,2,-47,12,0,-44,10,3,-46,8,3,-44,8,0,-41,11,1,-40,14,3,-38,13,1,-37,13,3,-35,13,2,-33,14,1,-35,10,1,-36,9,2,-37,9,0,-38,8,3,-40,7,3,-35,8,3,-34,5,3,-32,5,1,-31,6,1,-30,7,2,-32,10,1,-34,11,1,-37,6,1,-39,7,2,-42,11,3,-45,20,1,-48,17,1,-41,17,2,-44,17,1,-46,13,0,-37,11,1,
2,25,0,0,24,2,-1,22,2,-2,21,3,-3,18,1,-1,20,3,1,22,3,-2,19,1,-4,17,3,-1,16,1,-3,13,0,-5,14,2,-6,13,1,-7,10,3,-5,10,1,-4,8,0,-6,9,2,-8,6,2,-9,5,1,-7,4,1,-5,4,2,-4,5,1,-4,2,1,-2,3,0,-6,-1,2,-8,0,1,-10,1,3,-12,-1,3,-11,2,1,-9,2,0,-7,0,2,-5,-2,0,-4,-1,2,-4,-3,3,-6,-3,0,-8,-2,0,-10,-1,1,-10,5,0,-11,4,3,-9,-6,0,-7,-7,3,-6,-6,1,-8,-8,2,-7,-9,2,-7,-11,3,-9,-7,2,
18,14,2,20,15,1,23,14,1,21,12,1,19,12,0,17,9,2,15,7,3,16,5,1,18,5,3,20,8,0,22,9,1,24,12,2,26,8,1,28,9,1,30,7,1,29,5,0,27,4,1,25,5,2,23,5,3,21,5,1,18,3,2,16,-1,2,14,-1,1,15,-2,2,19,-3,3,21,-3,2,23,-2,1,25,-2,3,27,-3,2,29,-4,1,27,-6,1,24,-6,3,20,-6,2,17,-6,0,22,-4,3,24,-3,1,32,-1,1,33,-3,1,30,-1,3,26,3,1,27,2,3,29,1,2,31,4,1,23,0,0,20,2,2,18,0,0,16,0,1,
54,-2,0,57,-1,1,59,0,0,55,-4,0,57,-4,3,60,-5,2,62,-4,0,64,-4,0,66,-4,2,64,-6,0,62,-8,1,60,-9,3,58,-10,3,56,-8,2,54,-8,0,52,-10,1,50,-11,2,48,-12,3,47,-12,1,46,-13,3,48,-13,1,50,-14,2,52,-12,1,54,-14,3,56,-14,0,58,-12,2,60,-13,1,62,-15,2,64,-12,3,65,-14,1,63,-11,0,64,-8,0,61,-7,0,59,-9,1,57,-10,2,55,-7,3,53,-5,0,51,-15,1,49,-17,0,47,-16,2,55,-17,1,53,-17,3,51,-17,0,
-55,-12,0,-57,-12,3,-56,-15,1,-54,-17,2,-52,-17,1,-53,-11,2,-51,-11,3,-49,-13,2,-48,-12,1,-50,-15,0,-47,-11,0,-46,-10,1,-45,-12,2,-46,-14,1,-45,-15,3,-47,-17,1,-49,-18,3,-45,-19,2,-44,-20,1,-42,-18,0,-41,-19,3,-39,-20,1,-38,-21,0,-37.5,-25,3,-40,-23,1,-42,-22,3,-44,-24,3,-46,-23,2,-43,-25,0,-41,-25,1,-42,-27,1,-44,-28,0,-45,-27,3,-47,-26,1,-49,-29,3,-51,-29,0,-52,-30,1,-48,-31,3,-46,-30,1,-43,-31,0,-41,-28,0,-39,-27,1,-40,-29,3,
-12,-31,3,-14,-30,0,-10,-30,1,-8,-31,1,-7,-34,2,-7,-36,1,-9,-35,2,-11,-34,1,-13,-33,3,-15,-36,2,-17,-37,3,-16,-36,1,-13,-38,0,-11,-39,1,-9,-39,2,-7,-40,1,-6,-38,1,-10,-41,2,-14,-41,2,-12,-41,0,-8,-43,2,-6,-45,2,-5,-46,3,-4,-45,1,-7,-46,0,-9,-45,1,-12,-45,3,-14,-45,1,-16,-44,0,-17,-45,2,-16,-48,3,-18,-47,1,-12,-48,2,-10,-49,1,-8,-50,2,-6,-49,0,-7,-51,1,-9,-51,3,-12,-52,3,-13,-55,2,-11,-56,3,-15,-53,1,-8,-53,2,-10,-53,1,-14,-51,3,
10.5,-28,3,11,-29,2,12,-27,1,14,-28,1,14,-30,0,16,-30,2,17,-28,1,16,-33,1,14,-34,2,12,-34,3,12,-38,0,13,-39,1,15,-36,0,18,-34,2,20,-33,3,21,-33,1,22,-35,1,23,-31,2,25,-30,1,26,-31,3,28,-34,3,27,-33,0,29,-36,2,26,-39,2,24,-38,1,22,-37,2,20,-38,1,18,-39,3,16,-40,1,14,-39,0,13,-43,1,15,-41,2,17,-40,3,19,-43,2,21,-42,2,23,-41,0,25,-42,3,26,-42,0,28,-40,1,29,-38,2,27,-38,0,19,-46,0,21,-46,3,23,-48,2,25,-47,0,27,-47,0,29,-44,2,29,-42,1
];
const panelC=[
-32,48,3,-30,49.5,3,-28.3,50,3,-29.5,48,3,-23.4,48.9,2,-24.8,49,3,-26,49,3,-25,47,3,-27.4,46,3,-30.6,46.6,3,-28.8,47.6,2,-32,46.5,3,-31,47,3,-29,50,3,-30,48,3,
-32,43,3,-28.8,43.5,3,-30.6,41,2,-27.4,40,2,-33,40,3,-34.2,38.2,3,-31.5,38.4,3,-29.2,38.4,3,-32.8,37,3,-28.8,36,3,-30.6,35.5,3,-33.9,35,2,-30.4,33.6,3,-30,40,3,-29,41,3,-32,39,3,-30,37,3,-33,38,3,
-12.6,52,2,-11.3,51,2,-9.5,52,3,-6.4,51.2,3,-9,50.5,2,-15.3,50,2,-16.7,47.6,2,-14,47.6,2,-12.2,47.6,2,-10.4,48.6,3,-7.7,48.6,2,-18.9,46.2,2,-14.4,45.2,2,-18.5,43.5,3,-21.2,43.3,1,-19.4,41.3,2,-21.6,40.9,2,-16.7,43.3,3,-9.5,43.3,3,-10.9,45.2,2,-4.6,45.7,2,-2.8,45.7,2,-2.6,43.8,2,-3.5,46,2,-16,40,3,-18,39,2,-15,41,2,-13.5,39,3,-12,40,2,-14.5,38,0,-12,37,2,-10,38,2,-8,39,2,-5.5,40,2,-3.5,40,2,-6,41,3,-7,38,1,-9,36,2,-11,36,3,-13,36,2,-16.5,37,2,-11,41,3,
-36,29,3,-35,28,2,-34,29,3,-37,28.5,3,-34.5,30,2,-33.5,28,3,
-29,31,3,-26,30,1,-28,27,3,-26,26,3,-27.5,24,3,-25,24,3,-29,22,3,-33,22,2,-31,21,3,-27,20,0,-25,20,3,-29,18,0,-32.5,18,2,-31,15,3,-28,15,3,-26,15,3,-24,18,3,-22,19,2,-20,20,2,-19,23,3,-20.5,29,3,-19,30,3,-17,29,3,-22,27,3,-20,25,3,-18,26,3,-16,25,3,-15,23,3,-22,23,1,-24,26,0,-17,22,2,-14,20,3,-13,22,3,-15,20,2,-19,17,2,-17,19,3,-21,16,2,-23,15,2,-24,13,3,-26,13,0,-20,13,3,-17,14,3,-15,16,2,-12,16,3,-13,13,3,-11,14,3,-10,17,0,-11,20,0,-10,13,2,-14,11,2,-16,12,3,-18,10,2,-22,11,2,-21,9,3,-16,8,3,-13,8,2,-11,9,3,-9,10,0,-8,9,1,-8,12,2,-7,14,2,-5,16,2,-5,13,1,-6,18,2,-3,18,2,-4,20,3,-6,22,2,-7,26,1,-8,23,3,-10,25,2,-12.5,28,3,-14,28.5,3,-11,29,3,-10,30,3,-8,29,3,-7,27,3,-5,28,1,-4,26,2,-2,25,3,-2.5,27,1,
-31.5,22,0,-31.5,15,0,-31.5,13,0,-31.5,11,0,-26,10,2,-24,12,2,-28,6.5,3,-28,7,0,-27,5,0,-25,6,0,-23,4,1,-22,5,0,-20,5,0,-18,6,3,-17,4,3,-15,4,2,-13,7,0,-12,8,0,-9,7,3,-7,6,2,-6,5,0,-3,5,3,-2,4,2,-20,1,0,-22,2,3,-24,2,3,-25,0,3,-18,3,2,-16,1,2,-14,3,2,-12,0,3,-10,0,3,-13,-1,2,-15,-3,2,-18,-1,0,-20,-2,2,-22,-2,2,-19,-5,3,-17,-6,0,-14,-5,3,-11,-4,3,-9,-3,3,-7,-1,0,-8,-5,2,-5,0,0,-3,-1,1,-2,-3,0,-1,-6,3,-3,-5,3,-4,-7,0,-5,-8,2,-7,-9,0,-9,-8,3,-12,-7,1,-14,-9,0,-16,-10,0,-18,-10,2,-22,-8,0,-24,-8,2,-26,-9,0,-25,-3,2,-27,-5,3,-29,-6,3,-31,-5,3,-32,-3,3,-30,-2,3,-28,-1,3,-25.5,-6,2,-33,-7,3,
-38,3,2,-37,1,3,-38,0,3,-36,0,3,-37,-1.5,3,-35,-1,3,-34,-1,3,-32,3,3,-30,2.5,3,-34,-4,2,-33.5,-6,2,-37.5,-9,1,-37,-8,0,
-42,-7,0,-41,-6.5,2,-40,-8,0,-38,-10,0,-39,-12,0,-37,-12,0,-36,-10,0,-35,-13,0,-38,-14,0,-40,-13,0,-39,-15,0,-36,-15,0,-34,-15,0,-33,-13,0,-32,-13,0,-30,-12,0,-29,-14,0,-28,-12,3,-27,-13,0,-35,-11,2,-33,-10,3,-31,-9,0,-31,-11,0,-28,-9,0,-26,-11,0,-24,-11,0,-22,-10,2,-20,-11,0,-37,-16,0,-41,-16,1,-42.5,-16.5,1,-40,-16,0,-38,-19,0,-39,-20,0,-37,-20,0,-35,-18,0,-36,-21,0,-34,-21,0,-37,-23,0,-35,-24,0,-36,-25,0,-35,-27,0,-34,-26,2,-33,-24,0,-33,-22,1,
-25,-13,2,-22,-14,2,-20,-14,0,-19,-16,2,-17,-15,0,-14,-13,0,-12,-12,0,-10,-13,2,-13,-15,0,-12,-17,0,-10,-15,0,-8,-17,0,-15,-17,3,-14,-18,1,-17,-20,2,-19,-21,3,-16,-21,2,-13,-21,1,-15,-23,2,-13,-19,3,-11,-19,1,-12,-20,1,-8,-16,2,-5,-14,3,-4,-16,2,-7,-14,1,
-7,-26,3,-7.5,-29,1,-5,-25,3,-4,-26.5,2,-4,-28,0,
-3,-10,2,-1,-11,1,-3,-13,1,1,-15,1,-0.5,-19,0,0.5,-21,1,3,-18,0,5,-14,3,7,-11,2,9,-10,0,12,-9,2,14,-13,3,17,-14,3,19,-14,3,21,-13,3,21,-16,3,23,-14,2,23,-20,1,20.5,-21,2,
2,-24,1,1,-27,0,0,-29,1,1,-28,1,3,-25,1,5,-22,2,4,-19,0,6,-19,0,7,-17,2,8,-20,3,10,-21,3,9,-19,3,11,-16,0,13,-15,2,15,-17,2,11,-20,1,12,-22,3,14,-21,3,16,-19,0,18,-22,3,19,-17,3,3,-31,3,4,-33,3,5,-35,0,3,-36,2,5,-37,3,6,-37,0,7,-38,3,8,-38,2,9,-35,1,10,-34,0,7,-34,1,5,-30,3,7,-28,3,8,-27,1,10,-30,3,10,-33,2,12,-30,3,16,-29,2,17,-29.5,2,15,-27,2,18,-26,3,16,-25,3,12,-25,1,10,-25,2,8,-25,2,6,-24,3,4,-27,2,6,-26,1,14,-24,2,13,-28,2,
-32,-52,3,-33,-53,1,-33,-54,1,-31,-51,3,-30,-53,2,-29,-55,1,-30,-55,3,-28,-52,2,-27,-50,2,-26,-48,0,-28,-49,1,-27,-54,3,-25,-53,2,-24,-50,0,-23,-52,1,-26,-57,2,-25,-58,3,-23,-55,2,-22,-49,2,-21,-48,1,-20,-49,2,-19,-47,2,-18,-47,0,-16,-47,0,-15,-47,2,-18,-49,1,-20,-52,3,-21,-54,1,-19,-56,2,-17,-55,1,-15,-52,2,-14,-50,1,-13,-54,3,-11,-51,0,-12,-50,2,-10,-52,0,-11,-53,3,-12,-55,3,-10,-56,3,-13,-58,1,-11,-59,3,-9,-58,2,-7,-56,0,-5,-55,2,-3,-56,0,-1,-52,2,-2,-51,1,0,-50,0,-1,-49.5,0,-4,-51,0,-3,-53,2,1,-53,0,0,-56,3,2,-56,1,3,-57,2,1,-57,1,-3,-57,3,4,-58,3,5,-58,1,6,-58,0,7,-58,1,8,-58.5,1,5.5,-61,0,5,-62,0,6.5,-62,0,4.5,-61,2,-27.5,-42.5,2,-22.5,-43.5,3,-11.5,-42.5,3,
0,39,3,5,37,2,7,39,3,8,38,3,9.5,39,3,10.5,38.5,1,4.5,36,0,3,34,3,0.5,36,2,0,33,3,-1,32,2,2,33,2,5,31,1,7,31,3,3,28,3,-0.5,28,2,1,26,3,4,25,1,6,27,3,7,26,3,4,23,1,5,20,2,7,21,3,8,23,1,10,23,2,12,22,0,13,19,3,12,17,1,11,14,3,7,16,3,5,18,2,3,14,0,2,11,1,4,9,0,6,14,3,8,12,0,10,10,2,13,13,3,15,12,1,17,11,2,19,13,3,18,15,2,16,17,1,15,21,1,
26,11,1,23,9,2,21,8,1,24,6,0,26,7,3,28,8,1,12,6,0,14,5,0,13,3,0,16,4,1,17,2,0,19,4,1,21,3,3,23,1,1,22,-1,0,24,0,1,19,-1,1,18,0,0,15,1,1,10,3,0,8,5,3,6,3,2,2,3,2,1,1,2,3,-1,0,-1,-1,0,-2,0,0,4,1,2,6,-1,2,8,0,3,10,-2,1,12,-3,0,14,-4,3,15,-6,1,17,-7,3,12,-8,0,10,-10,0,11,-11,0,7,-4,1,9,-6,1,5,-6,2,3,-6,1,1,-6,1
];
const panelCMore=[
31.4,36,2,33.7,34.6,1,35.9,34,1,37,33,1,38.9,31.7,1,38.5,27.3,1,35.6,26.9,1,33.4,26.9,1,30.8,27.4,1,28.6,25.6,1,30.8,29.8,1,33.4,28.9,1,27.3,28.9,3,25.3,23.7,1,24.6,32.2,2,23.4,29.8,1,23.4,27,1,22,29.4,1,21.3,39.7,2,19.4,39.7,1,16.7,39.5,0,19.4,35,3,16.8,36.4,2,14.3,34.1,3,11.7,35,1,9.5,32.5,2,7.3,32.1,3,9.2,39.5,3,6.6,37.7,3,10.9,39.2,1,15.4,27.3,2,17.6,25.9,2,19.7,25,2,13.9,25.9,2,15.8,22.3,1,18,21.4,2,16.1,19.9,2,17.2,17.6,3,18,15.5,3,20.9,17.6,2,13.2,29.3,2,11.2,29.3,1,8.8,26.4,1,7,27.4,3,11,23.6,1,9.9,21.4,2,10.6,20,3,12.1,16.6,1,11,14.8,1,11,12.1,3,12.5,10.8,3,15.4,11.9,1,17.2,10.8,2,18.7,11.5,1,20.5,13.5,1,22,14,1,23.8,14,1,25.7,12.5,1,26.4,18.5,1,27.1,12.4,1,29,14.3,1,29.4,15.7,1,30.1,20.9,1,30.1,18.6,1,31.9,18.7,1,33.4,18.3,0,33.4,15.9,0,36,20.9,1,37.6,20.4,0,38.9,21.4,1,40.7,21.9,1,41.5,19.4,1,36,17.2,1,37.5,16.4,0,39.6,14.3,1,43,16.5,1,44.7,16.5,1,46.2,15.1,1,45.8,11.4,1,37.8,11.1,1,41.1,10.2,1,44,10.2,1,42.2,13.9,1,44.4,13.9,1,42.9,11.5,1,40.7,8.7,0,42.9,8.2,0,44.7,6.8,0,48.4,5.1,1,41.8,3.7,1,44.3,4.1,1,46.2,2.3,1,48.8,1.1,0,50.6,0,0,49.5,-2.2,0,50.3,-4.5,0,46.7,-3.6,0,44.3,-0.9,1,41.8,0.5,0,44,-3.1,0,43.6,-5,0,41.4,-5,0,39.6,-4.6,0,41.8,-1.2,0,40.3,-0.8,1,37.4,-5,0,36,-6.5,0,34.5,-9.3,0,38.1,-6.9,0,39.9,-7.4,0,42.5,-7.4,0,40.7,-10.2,0,36,-10.2,1,37.4,-9.7,0,
42.2,-13,0,44.4,-13.5,1,46.2,-11.2,0,45.8,-14.4,0,48.4,-11.7,0,48.8,-15,0,50.3,-12.5,0,51.4,-10.2,1,51.4,-15,0,52.8,-14.5,0,54.9,-14,0,55,-12.8,1,47.5,-13,0,49.5,-13.5,0,50,-14.5,0,44,-15,1,34.5,-16.5,2,35.6,-17,0,37.1,-19,0,38.5,-18.4,0,44.7,-18.7,2,45,-18.5,1,30.7,-11.9,0,28.5,-11,0,28,-11.3,1,26.4,-8,0,28.8,-8,3,30.3,-8,1,32.6,-7,0,34.1,-5,2,31.5,-4.1,0,30.8,-1.2,2,28.6,-0.3,0,26.4,-0.3,2,26,-2.7,3,22.7,-4.1,0,24.2,-4.6,0,28.6,-4.6,0,25,0.7,1,21.9,0.3,1,19.5,0.3,1,17.2,0.7,2,20.1,-2.3,0,19.8,-5.5,2,18.3,-7.3,1,17.4,-9.4,3,19.4,-11.6,3,21.6,-12.2,3,23.5,-14.3,0,23.8,-11.2,3,22.4,-9.8,0,15.8,-10.6,0,13.9,-13.5,1,11,-10.2,0,7.7,-10.2,3,14.3,-8.8,1,15.4,-5,2,13.9,-6,1,11.7,-3.6,3,9.2,-2.3,1,8.8,-5,0,6.9,-2.7,3,5.5,-7.4,2,22,3.8,0,24.2,7,1,23.8,9.1,3,22,8.3,1,19.7,7.9,1,17.6,8.7,1,14,9.1,3,13.2,7.3,0,11.7,5.9,0,13.5,3.6,0,16.1,3.8,0,18.9,4.4,1,15.4,-0.3,2,19,1.1,0,13.9,1.9,2,11,7.7,0,7.7,8.2,3,8,2.3,3,30.5,6,0,32.3,6.8,1,37.4,7.1,0,35.9,5.8,1,33,4,2,35.2,2.6,2,35.6,0.4,1,38,0.7,0,30.8,2.6,0,
-37.8,-7.4,3,-41.1,-6.5,2,-40.3,-8.4,0,-37.8,-9.8,0,-35.6,-8.4,2,-40.3,-13.3,0,-38.4,-13.1,0,-36.3,-12.9,0,-42.5,-16.5,1,-41.8,-16.2,0,-40.7,-15.9,1,-35.8,-16.2,0,-34.1,-14.2,2,-32.3,-14.3,0,-37.4,-16.8,0,-33.4,-16.8,0,-31.5,-16.8,0,-27.9,-13.5,0,-30.4,-11.6,0,-33.1,-11.6,3,-33.6,-9.3,3,-30.8,-9.8,2,-29,-10.2,0,-27.3,-9.8,3,-25.3,-9.3,0,-22.7,-8.4,0,-24.6,-10.7,2,-38.5,-20.3,0,-36.7,-20.3,0,-39.6,-19.2,0,-35.2,-19,0,-33.7,-21.3,0,-32.6,-23.4,2,-33.9,-24.2,0,-35.6,-23.9,0,-37.6,-23.4,0,-36.7,-24.9,0,-35.7,-26.5,0,-34.8,-27.2,0,-22.7,-13.4,2,-21.3,-13.5,0,-19.2,-15.4,2,-16.8,-15,0,-19.4,-12.1,0,-21.3,-9.3,2,-16.2,-9,2,-14.7,-9.8,0,-13.2,-10,0,-15.2,-17.1,3,-13.2,-13.1,0,-11.4,-12.6,0,-13.2,-15.9,1,-10.6,-17.9,3,-13.1,-21,2,-15.9,-22,1,-16.2,-20.3,2,-17.6,-21.4,3,-11.4,-19.7,1,-9.6,-19.7,0,-8.5,-16.8,2,-5.9,-13.4,2,-7.4,-12.4,2,-8.1,-9.6,2,-11,-9.3,1,-4.8,-15.4,0,-3.6,-16.8,2,0.3,-17.9,0,-1.2,-19.7,1,1.6,-20.6,3,4.3,-20.3,0,-7.3,-25.8,3,-7.6,-28.4,1,-4.8,-24.9,3,-3.8,-26,2,-4.3,-27.2,0,-4.2,-23.7,1,0.3,-28.6,1,1,-27,0,2.1,-27,2,2.5,-30.1,3,3,-32.3,3,4.2,-34.8,2,5.5,-36.1,3,7.7,-37.2,2,9.2,-36.3,3,10.1,-33.9,0,7.7,-31.4,1,10.7,-31,2,11.8,-27.7,3,9.9,-28.6,1,7.4,-26.3,3,5.9,-27.2,3,4.1,-28.2,3,2.1,-24.4,0,4.1,-21.6,1,6.6,-20.7,0,8,-22,3,10.2,-20.7,2,8.8,-17.9,2,6.2,-13.3,3,8,-14,1,10.5,-14,2,12,-16.4,2,12.5,-21.6,3,12.8,-24.4,3,8,-24.9,0,5.9,-18.7,3,5.9,-23.9,3,-37.8,2.1,3,-36.3,1.4,2,-37.8,-1.8,0,-35.2,-3.2,2,-33,-3.6,3,-30.8,-2.2,3,-29.7,-0.1,3,-28.2,0.8,2,-25.5,3,0,-23.8,1.1,1,-20.9,-0.5,3,-19.3,-6.2,3,-21.3,-4.6,3,-22.7,-7.9,0,-16.5,0.1,0,-14,-3.2,1,-12.1,-5.5,0,-10.6,-0.8,3,-8.8,-3.6,3,-7,-4.6,2,-7,-1,0,-4.8,-1.1,1,-5,-7.1,3,-2.2,-5,3,-2,-7,3,-4.4,-9.3,0,0,-6.5,1,3.7,-6.9,1,4.5,-10.7,0,7.7,-10,3,10.8,-10.5,0,7.7,2,3,-1.5,0.1,2,3.7,0.1,2,8.5,-5,3,11.8,-3.6,3,
-28.6,48.7,2,-30.8,49.2,3,-31.9,48.2,3,-29,47,3,-26.8,46.4,3,-23.5,48.7,2,-25.9,49.2,3,-24.5,49.2,3,-24.9,47,3,-31.9,43,3,-28.8,43.6,2,-30.5,41.2,2,-27.5,40.2,2,-33,39.8,3,-34.1,38.3,3,-31.6,38.1,3,-29,38.3,3,-30.5,35.5,3,-28.9,36.3,3,-33.3,35.2,2,-30.4,33.6,3,-6.5,51,3,-9,51,2,-12.6,52,2,-11.7,51.5,3,-9.5,52.3,3,-15.4,50,2,-10.6,47.7,3,-12.5,47.7,2,-14.3,45.4,2,-16.4,48.2,3,-18.3,45.8,2,-18.7,43.5,3,-21.3,43.2,2,-21.9,40.9,1,-19.5,41.6,2,-16.5,43,3,-16.9,39.3,3,-18.7,37.9,2,-14.9,40.7,2,-13.8,37.9,2,-13.8,36.5,2,-12.1,38.5,0,-10.9,36,3,-9.7,37.9,2,-7.4,37.9,1,-7.7,39.7,2,-6.1,41.6,2,-4.3,40.6,2,-5,45.8,2,-3.3,45.3,2,-3.1,43.4,2,-9.5,43.4,3,-10.6,43.9,3,-12,46.7,2,-35,29.1,2,-36.4,28.4,3,-33.7,29.9,2,-33.4,28.3,3,-28.9,30.3,3,-26.3,30,1,-29.2,28.3,3,-24.9,27.1,3,-22.7,28.2,2,-27.1,25.8,3,-28.6,26.3,3,-28.6,24,3,-30,22.6,3,-31.9,22.2,3,-32.6,22.5,2,-31,19.4,0,-28.8,19.4,3,-26.4,22.6,0,-23.5,22.6,3,-22.4,19.4,2,-21,19.4,1,-25.3,17.6,3,-23.9,17.4,3,-27,14.8,3,-28.9,17.1,3,-31.2,13.9,0,-31.2,11.9,0,-27.6,11.4,3,-28.5,12.5,1,-22.1,9.3,2,-28,6.9,3,-19.5,29.3,3,-18.7,29.8,3,-20.9,28.2,3,-17,26.6,3,-20.9,24.2,3,-22.7,25,2,-19.5,25,3,-14.9,23.8,3,-17.3,22.9,3,-19.8,20.4,3,-17.4,20,3,-15,20.7,3,-14,20.5,3,-11.4,19.7,2,-10.8,19.2,0,-18.4,17.4,3,-16.2,17.8,2,-13.3,16.9,3,-17,13.9,2,-10.8,14,3,-12.5,12.9,3,-20,13.6,3,-22.2,13,2,-19.2,11,2,-17.4,10.4,2,-15.2,11,3,-12.5,10.6,0,-9.8,10.1,2,-6.9,11.1,3,-8.1,9.4,0,-3.5,9.8,2,-5.3,9,2,-17.6,8.7,3,-14.8,6.4,2,-12.7,5.6,3,-11.5,7.7,0,-9.8,5.6,0,-6.2,7.3,3,-3.8,7.8,2,-14.7,28.2,3,-12.5,28.2,3,-10.3,27,3,-8.6,30.2,3,-6.1,28.6,3,-7.9,25.5,3,-5.8,26.7,3,-3.5,27.6,3,-2.7,25,3,-5.9,29.8,1,-11,30,3,-13.1,30.5,3,-3.2,21.5,0,-3.9,19.7,3,-3.8,17,3,-7.7,22,3,-6.5,19.5,1,-6.1,17.4,2,-7.2,15.3,2,-4.9,15.2,2,-4.1,13.3,3,-0.3,35.5,2,-1.8,34.5,2,-1.8,31.7,1,-0.1,33,2,5.1,36.9,2,6.6,37.6,3,9.1,39.4,3,10.9,38.8,1,4.7,34.5,0,5.8,33.8,1,2.2,29.4,3,3.8,31.2,1,3,26.5,3,4.8,26.5,1,7.1,26.8,3,3.8,24.2,3,5.8,25,2,8.2,23.8,1,6.3,23.8,1,0.5,22.9,2,-0.9,28.2,2,10.8,23.8,1,10.7,20,3,12,16.7,1,11,14.6,1,12.9,10.7,3,15.7,12,1,5,21,1,5.5,17.7,1,5.5,15.4,3,5.4,13,3,8,16.7,2,8,13.1,1,7.7,8.1,3,0.7,19.7,0,0.4,17,1,1.8,16,2,3.6,13.7,0,-0.1,13,0,2.5,10.8,1,6.3,10.3,3,4.5,8,1,-1.4,15.2,1,-1.3,10.3,0,2.5,9.4,3,9.2,32.7,2,11.3,34.6,1,10.7,28.8,1,7.5,31.4,3,15,26.5,2,13.9,24.2,2,15.1,22.4,1,16,19.5,3,16.4,25.6,2,
9.8,32.1,2,11.1,34.6,1,12.9,34.6,2,14.7,36,1,16.5,36,2,18.7,35.5,3,20.5,33.6,2,22.3,35,2,24.1,32.6,1,25.5,35,2,27.7,34,1,29.5,33,2,31.3,36,2,33.5,34,1,35.4,34.6,1,36.2,32.6,1,38,31.2,1,38.9,29.7,1,38.9,26.8,1,35.4,26.3,1,33.1,26.3,1,30.9,27.8,1,28.3,25.8,1,30.4,30.2,1,31.7,29.2,1,23.2,26.8,1,23.7,29.7,2,21.4,31.2,2,19.6,30.7,1,17.8,31.2,2,16,33.6,2,14.3,32.1,1,12,32.1,2,11.1,28.8,1,12.9,28.3,1,13.8,24.9,2,15.6,23.9,2,17.8,25.4,2,19.6,24.4,2,17,22,2,18.7,21,2,15.6,21,1,17,18.6,3,20.8,17.6,2,25,23.7,1,16.5,39.4,0,20.1,39.9,1,21.4,39.4,1,
36,20,1,38,20.2,0,40.7,21.5,1,41.6,18.6,1,43.4,16.2,1,46.1,15.2,1,45.2,11.3,1,43,12.3,1,40.7,11.3,1,38.5,10.8,0,42.5,8.4,0,45.2,7.5,1,43.9,5.5,0,41.6,3.6,1,46.1,3.1,1,48.3,5,1,49.7,2.1,0,50.6,0.2,0,49.2,-2.2,0,47,-3.7,0,44.3,-0.8,1,42.1,0.7,0,40.7,-4.2,0,38.9,-5.1,0,36.7,-5.6,0,34.9,-7.6,0,43,-5.1,0,45.2,-5.1,0,41.6,-7.1,0,39.8,-7.1,1,36.7,-10,1,
-31,-50,0,-30,-49,1,-29,-51,2,-28,-53,3,-27,-52,1,-26,-50,2,-25,-51,0,-24,-48.5,1,-23,-50,2,-22,-52,3,-21,-51,1,-20,-47,0,-19,-50,0,-17,-48,2,-16,-50,2,-15,-49,1,-18,-53,1,-17,-52,3,-16,-54,0,-14,-53,3,-15,-56,1,-13,-52,2,-12,-52,0,-10,-54,3,-9,-56,0,-8,-53,3,-7,-52,2,-6,-54,1,-5,-52,1,-4,-53,0,-3,-50,2,-2,-54,3,-1,-55,2,0,-52,3,1,-51,2,2,-54,0,-24,-54,1,-22,-54,2,-20,-55,2,-18,-58,1,-16,-58,3,-14,-57,0,-12,-60,3,-11,-57,2,-9,-60,0,-8,-57,1,-6,-59,3,-4,-58,0,-2,-58,1,0,-59,0,1,-59,3,3,-60,0,4,-59,1,5,-60,0,6,-63,0,7,-61,1,-28,-56,2,-26,-55,3,-27,-59,3,-31,-54,3,-32,-55,1,-29,-52,0,
12.9,6.5,0,15.2,3.6,0,17,6,1,18.7,3.6,1,20.5,2.1,0,22.3,5.5,1,24.1,8.9,3,26.4,12.3,1,22.8,11.3,1,16,11.3,3,20.1,9.4,2,17.8,7.5,2,23.7,1.6,1,19.6,-3.2,0,22.8,-5.1,0,23.7,-9,3,27.3,-8,0,30.4,-11.9,0,28.2,-10.9,0,23.7,-10.9,3,20.1,-11.4,3,25.9,-0.3,2,27.7,-4.2,1,31.3,-1.3,2,34,-5,1,30.9,-5,0,26.4,-5,1,32.6,6.5,2,30.4,5.5,0,37.1,6.5,0,35.8,5.5,1,35.3,2.6,2,37.6,0.5,0,27.7,-0.3,0
];
const toRows=(...lists)=>{
  const flat=lists.flat(), n=flat.length/3;
  const rows=d3.range(n).map(i=>({x:flat[3*i],y:flat[3*i+1],cls:classes[flat[3*i+2]]}));
  // draw classes interleaved, in a fixed order, as the mixed layering in the picture
  const step=n%397===0?401:397;
  return d3.range(n).map(i=>rows[(i*step)%n]);
};
const minus=d=>String(d).replace("-","\u2212");
const frames=[{rows:toRows(panelA,panelAMore),x0:64,x1:680,yLabels:true},{rows:toRows(panelB,panelBMore),x0:698,x1:1314,yLabels:false},{rows:toRows(panelC,panelCMore),x0:1332,x1:1949,yLabels:false}];
const root=document.getElementById("root");
for(const f of frames){
  const marks=[
    Plot.dot(f.rows,{x:"x",y:"y",fill:"cls",r:4.6,stroke:"#000",strokeWidth:1.3,fillOpacity:.8,strokeOpacity:.75}),
    Plot.frame({stroke:"#000",strokeWidth:1}),
    Plot.axisX({ticks:xTicks,tickSize:5,tickPadding:3,tickFormat:minus,label:null,stroke:"#000",color:"#000"}),
    Plot.axisY({ticks:yTicks,tickSize:5,tickPadding:3,tickFormat:f.yLabels?minus:()=>"",label:null,stroke:"#000",color:"#000"}),
    Plot.text(["t-SNE Dimension 1"],{frameAnchor:"bottom",dy:33,fontSize:13,lineAnchor:"middle",fill:"#000"})
  ];
  if(f.yLabels) marks.push(Plot.text(["t-SNE Dimension 2"],{frameAnchor:"left",textAnchor:"middle",dx:-51,rotate:-90,fontSize:13,fill:"#000"}));
  const p=Plot.plot({
    width:f.x1+1,height:537,marginLeft:f.x0,marginRight:1,marginTop:15,marginBottom:51,
    style:{fontFamily:'"DejaVu Sans",sans-serif',fontSize:"12.6px",background:"transparent",overflow:"visible"},
    x:{domain:[-63.1,72.3],ticks:xTicks},
    y:{domain:[-68,65.1],ticks:yTicks},
    color:{type:"ordinal",domain:classes,range:colors},
    marks
  });
  root.appendChild(p);
}
const lg=document.getElementById("legend");
classes.forEach((c,i)=>{
  const row=document.createElement("div");
  row.style.top=(3+i*19.6)+"px";
  row.textContent=c;
  const sw=document.createElement("i");
  sw.style.background=colors[i];
  row.appendChild(sw);
  lg.appendChild(row);
});
</script></body></html>
